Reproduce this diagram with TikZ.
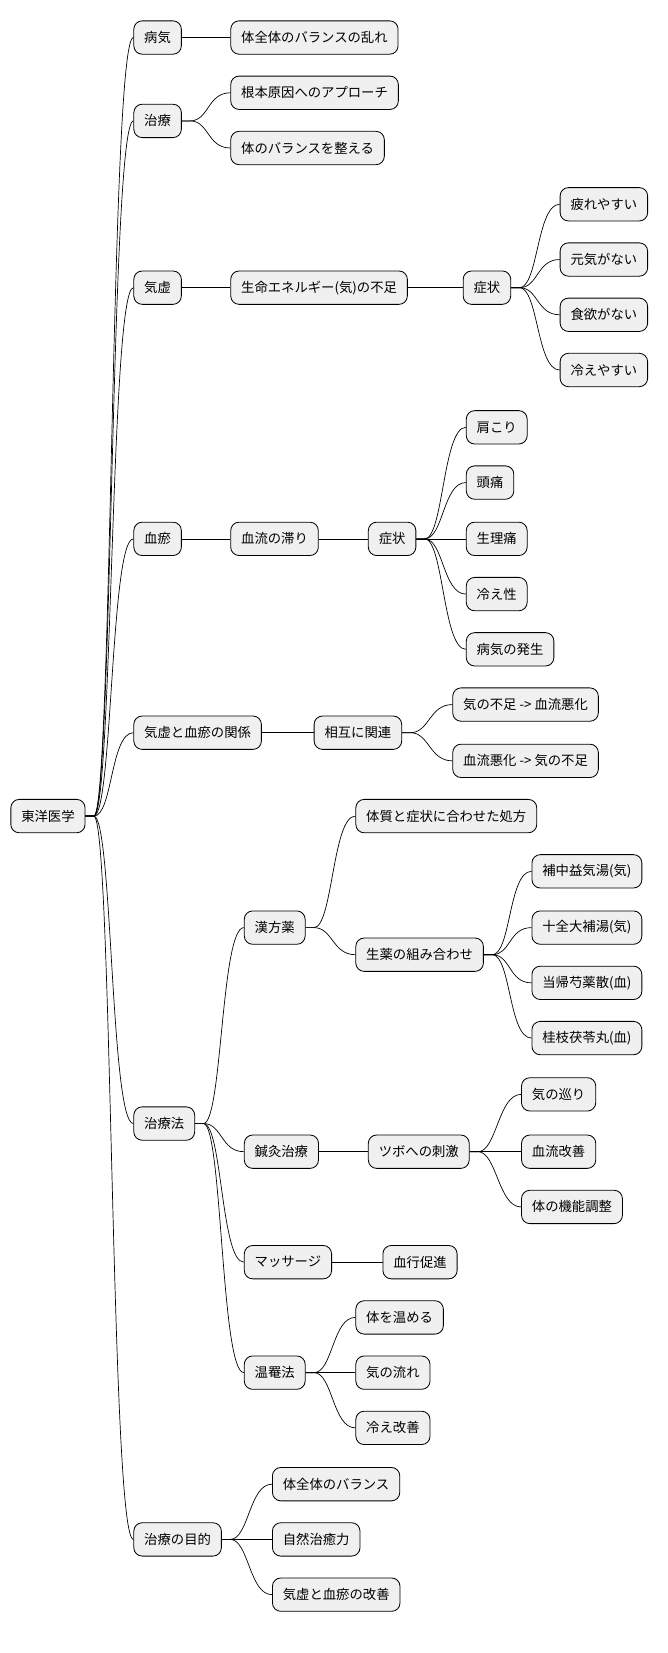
\documentclass[tikz,border=0pt]{standalone}
\usepackage{fontspec}
\setmainfont{Noto Sans CJK JP}
\begin{document}
\begin{tikzpicture}[x=0.75pt,y=-0.75pt,
  nd/.style={draw=black,fill=black!6,rounded corners=6pt,anchor=west,inner xsep=7.5pt,minimum height=24pt,font=\fontsize{9.6}{11}\selectfont,line width=0.6pt},
  ln/.style={line width=0.5pt}]
\useasboundingbox (0,0) rectangle (640,1586);
\newcommand{\Nd}[4]{\node[nd] (#1) at (#2,#3) {#4};}
\newcommand{\lk}[2]{\draw[ln] (#1.east) -- ++(8,0) .. controls +(18,0) and +(-22,0) .. (#2.west);}
\Nd{r}{10}{783}{東洋医学}
\Nd{a}{128}{36}{病気}
\Nd{b}{128}{116}{治療}
\Nd{c}{128}{276}{気虚}
\Nd{d}{128}{517}{血瘀}
\Nd{e}{128}{703}{気虚と血瘀の関係}
\Nd{f}{128}{1078}{治療法}
\Nd{g}{128}{1477}{治療の目的}
\foreach \n in {a,b,c,d,e,f,g}{\lk{r}{\n}}
\Nd{a1}{221}{36}{体全体のバランスの乱れ}\lk{a}{a1}
\Nd{b1}{221}{89}{根本原因へのアプローチ}\lk{b}{b1}
\Nd{b2}{221}{142}{体のバランスを整える}\lk{b}{b2}
\Nd{c1}{221}{276}{生命エネルギー(気)の不足}\lk{c}{c1}
\Nd{c2}{444}{276}{症状}\lk{c1}{c2}
\Nd{c3}{537}{196}{疲れやすい}\lk{c2}{c3}
\Nd{c4}{537}{249}{元気がない}\lk{c2}{c4}
\Nd{c5}{537}{302}{食欲がない}\lk{c2}{c5}
\Nd{c6}{537}{355}{冷えやすい}\lk{c2}{c6}
\Nd{d1}{221}{517}{血流の滞り}\lk{d}{d1}
\Nd{d2}{353}{517}{症状}\lk{d1}{d2}
\Nd{d3}{447}{410}{肩こり}\lk{d2}{d3}
\Nd{d4}{447}{463}{頭痛}\lk{d2}{d4}
\Nd{d5}{447}{517}{生理痛}\lk{d2}{d5}
\Nd{d6}{447}{570}{冷え性}\lk{d2}{d6}
\Nd{d7}{447}{623}{病気の発生}\lk{d2}{d7}
\Nd{e1}{301}{703}{相互に関連}\lk{e}{e1}
\Nd{e2}{434}{676}{気の不足 -> 血流悪化}\lk{e1}{e2}
\Nd{e3}{434}{730}{血流悪化 -> 気の不足}\lk{e1}{e3}
\Nd{f1}{234}{890}{漢方薬}\lk{f}{f1}
\Nd{f2}{234}{1105}{鍼灸治療}\lk{f}{f2}
\Nd{f3}{234}{1211}{マッサージ}\lk{f}{f3}
\Nd{f4}{234}{1317}{温罨法}\lk{f}{f4}
\Nd{h1}{341}{783}{体質と症状に合わせた処方}\lk{f1}{h1}
\Nd{h2}{341}{916}{生薬の組み合わせ}\lk{f1}{h2}
\Nd{h3}{510}{836}{補中益気湯(気)}\lk{h2}{h3}
\Nd{h4}{510}{890}{十全大補湯(気)}\lk{h2}{h4}
\Nd{h5}{510}{943}{当帰芍薬散(血)}\lk{h2}{h5}
\Nd{h6}{510}{996}{桂枝茯苓丸(血)}\lk{h2}{h6}
\Nd{i1}{353}{1105}{ツボへの刺激}\lk{f2}{i1}
\Nd{i2}{500}{1050}{気の巡り}\lk{i1}{i2}
\Nd{i3}{500}{1105}{血流改善}\lk{i1}{i3}
\Nd{i4}{500}{1158}{体の機能調整}\lk{i1}{i4}
\Nd{j1}{367}{1211}{血行促進}\lk{f3}{j1}
\Nd{k1}{341}{1264}{体を温める}\lk{f4}{k1}
\Nd{k2}{341}{1317}{気の流れ}\lk{f4}{k2}
\Nd{k3}{341}{1370}{冷え改善}\lk{f4}{k3}
\Nd{g1}{261}{1424}{体全体のバランス}\lk{g}{g1}
\Nd{g2}{261}{1477}{自然治癒力}\lk{g}{g2}
\Nd{g3}{261}{1530}{気虚と血瘀の改善}\lk{g}{g3}
\end{tikzpicture}
\end{document}
